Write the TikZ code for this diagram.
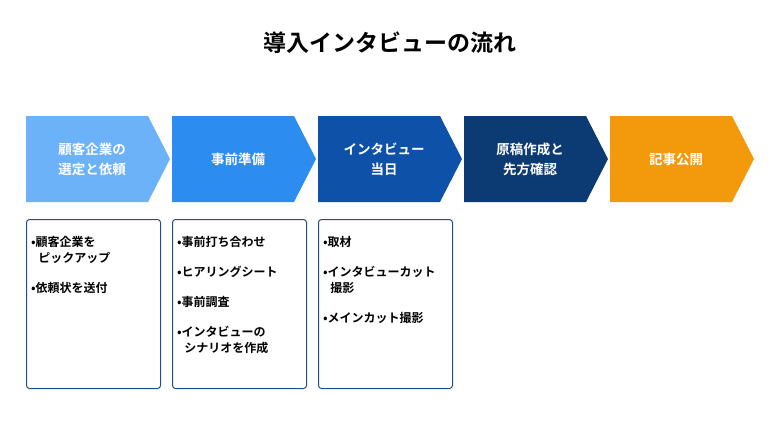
\documentclass[tikz,border=0pt]{standalone}
\usepackage{fontspec}
\setmainfont{Noto Sans CJK JP}[BoldFont={Noto Sans CJK JP Bold}]
\usetikzlibrary{positioning}
\definecolor{stepA}{HTML}{6CB2F8}
\definecolor{stepB}{HTML}{2D8CF0}
\definecolor{stepC}{HTML}{0D52A8}
\definecolor{stepD}{HTML}{0C3A72}
\definecolor{stepE}{HTML}{F39A0C}
\definecolor{boxline}{HTML}{1E4E8C}
\tikzset{
  chev/.style={text=white, font=\bfseries\fontsize{13.5}{20}\selectfont, align=center},
  detail/.style={draw=boxline, line width=1pt, rounded corners=3pt, minimum width=134pt, minimum height=169pt, anchor=north west},
  items/.style={font=\bfseries\fontsize{12}{16}\selectfont, align=left, anchor=north west, inner sep=0pt}
}
\begin{document}
\begin{tikzpicture}[x=1pt,y=-1pt]
  \useasboundingbox (0,0) rectangle (780,439);
  \node[font=\bfseries\fontsize{23}{26}\selectfont] (title) at (390,43) {導入インタビューの流れ};

  % chevrons
  \foreach \i/\col in {0/stepA,1/stepB,2/stepC,3/stepD,4/stepE}{
    \fill[\col] (26+146*\i,116) -- (148+146*\i,116) -- (170+146*\i,159)
      -- (148+146*\i,202) -- (26+146*\i,202) -- cycle;
  }
  \node[chev] (s1) at (92,159) {顧客企業の\\選定と依頼};
  \node[chev] (s2) at (238,159) {事前準備};
  \node[chev] (s3) at (384,159) {インタビュー\\当日};
  \node[chev] (s4) at (530,159) {原稿作成と\\先方確認};
  \node[chev] (s5) at (676,159) {記事公開};

  % detail boxes
  \node[detail] (b1) at (26,219) {};
  \node[detail] (b2) at (172,219) {};
  \node[detail] (b3) at (318,219) {};

  \node[items] (t1) at (31,236) {•顧客企業を\\\hspace{0.6em}ピックアップ\\[14pt]•依頼状を送付};
  \node[items] (t2) at (177,236) {•事前打ち合わせ\\[14pt]•ヒアリングシート\\[14pt]•事前調査\\[14pt]•インタビューの\\\hspace{0.6em}シナリオを作成};
  \node[items] (t3) at (323,236) {•取材\\[14pt]•インタビューカット\\\hspace{0.6em}撮影\\[14pt]•メインカット撮影};
\end{tikzpicture}
\end{document}
